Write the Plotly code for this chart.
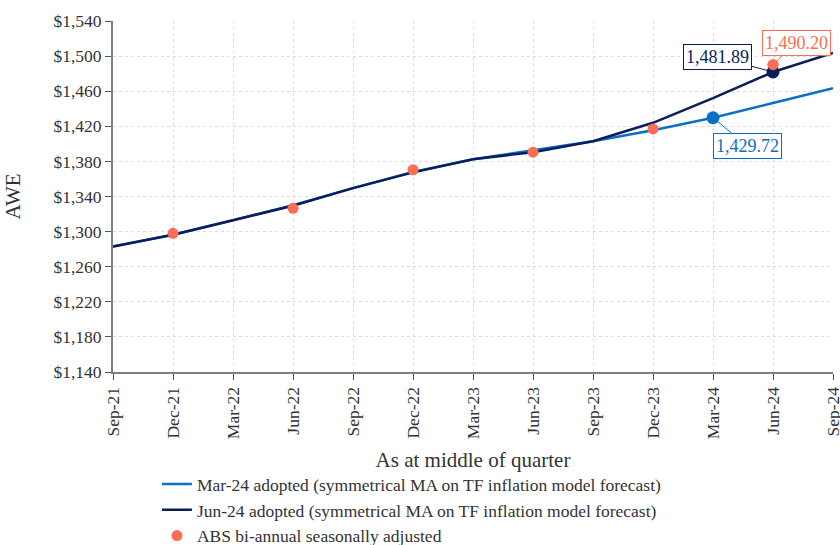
import plotly.graph_objects as go

quarters = ["Sep-21", "Dec-21", "Mar-22", "Jun-22", "Sep-22", "Dec-22", "Mar-23",
            "Jun-23", "Sep-23", "Dec-23", "Mar-24", "Jun-24", "Sep-24"]

# Mar-24 adopted series
mar24 = [1283.0, 1296.5, 1313.0, 1330.0, 1349.5, 1368.0, 1382.5,
         1393.0, 1403.0, 1415.5, 1429.72, 1446.5, 1463.5]
# Jun-24 adopted series
jun24 = [1283.0, 1296.5, 1313.0, 1329.5, 1349.5, 1367.5, 1382.5,
         1390.5, 1403.0, 1424.0, 1452.0, 1481.89, 1503.5]
# ABS bi-annual points
abs_q = ["Dec-21", "Jun-22", "Dec-22", "Jun-23", "Dec-23", "Jun-24"]
abs_v = [1298.0, 1326.5, 1370.5, 1390.5, 1417.0, 1490.20]

BLUE = "#0A6FC9"
NAVY = "#0B1E5B"
SALMON = "#FA6E55"
FONT = "Liberation Serif"

fig = go.Figure()
fig.add_trace(go.Scatter(x=quarters, y=mar24, mode="lines", line=dict(color=BLUE, width=2.5),
                         name="Mar-24 adopted (symmetrical MA on TF inflation model forecast)"))
fig.add_trace(go.Scatter(x=quarters, y=jun24, mode="lines", line=dict(color=NAVY, width=2.5),
                         name="Jun-24 adopted (symmetrical MA on TF inflation model forecast)"))
fig.add_trace(go.Scatter(x=abs_q, y=abs_v, mode="markers", marker=dict(color=SALMON, size=11),
                         name="ABS bi-annual seasonally adjusted"))
# highlighted points
fig.add_trace(go.Scatter(x=["Mar-24"], y=[mar24[10]], mode="markers", marker=dict(color=BLUE, size=13),
                         showlegend=False, hoverinfo="skip"))
fig.add_trace(go.Scatter(x=["Jun-24"], y=[jun24[11]], mode="markers", marker=dict(color=NAVY, size=13),
                         showlegend=False, hoverinfo="skip"))
fig.add_trace(go.Scatter(x=["Jun-24"], y=[abs_v[-1]], mode="markers", marker=dict(color=SALMON, size=11),
                         showlegend=False, hoverinfo="skip"))


def label(x, y, val, color, ax, ay):
    fig.add_annotation(x=x, y=y, text=f"{val:,.2f}", showarrow=True, arrowhead=0,
                       arrowwidth=1, arrowcolor=color, ax=ax, ay=ay,
                       font=dict(family=FONT, size=18, color=color),
                       bordercolor=color, borderwidth=1, borderpad=2, bgcolor="white")


label("Jun-24", jun24[11], jun24[11], NAVY, -56, -15)
label("Jun-24", abs_v[-1], abs_v[-1], SALMON, 23, -22)
label("Mar-24", mar24[10], mar24[10], BLUE, 34, 28)

fig.update_layout(
    width=840, height=545,
    margin=dict(l=113, r=7, t=21, b=173, autoexpand=False),
    paper_bgcolor="white", plot_bgcolor="white",
    font=dict(family=FONT, size=17.5, color="#333333"),
    showlegend=True,
    legend=dict(orientation="v", x=0.061, xanchor="left", y=-0.519, yanchor="bottom",
                font=dict(size=17.5), itemwidth=30, tracegroupgap=0),
    xaxis=dict(type="category", categoryarray=quarters, range=[0, 12], automargin=False,
               tickangle=-90, showline=True, linecolor="#7f7f7f", linewidth=2,
               ticks="outside", ticklen=6, tickcolor="#555555",
               showgrid=True, gridcolor="#dddddd", griddash="dot",
               title=dict(text="As at middle of quarter", standoff=14),
               tickfont=dict(size=17.5)),
    yaxis=dict(range=[1140, 1540], tick0=1140, dtick=40, tickprefix="$", tickformat=",d",
               automargin=False,
               showline=True, linecolor="#7f7f7f", linewidth=2,
               ticks="outside", ticklen=6, tickcolor="#555555",
               showgrid=True, gridcolor="#dddddd", griddash="dot", zeroline=False,
               title=dict(text="AWE", standoff=27), tickfont=dict(size=17.5)),
)

fig.write_html("out.html", config={"displayModeBar": False},
               post_script="document.body.style.margin='0';")
